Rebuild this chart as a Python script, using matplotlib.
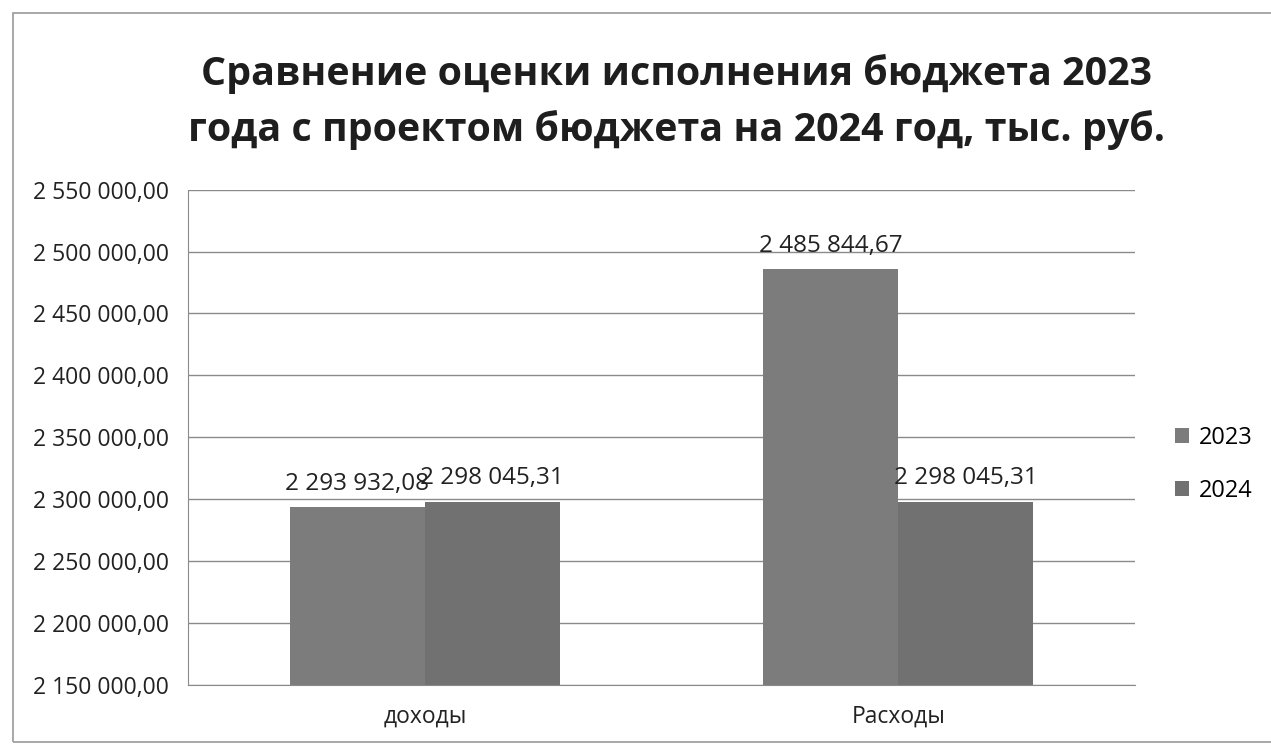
import matplotlib.pyplot as plt
import matplotlib.patches as patches
from matplotlib.ticker import FuncFormatter

categories = ["доходы", "Расходы"]
series_names = ["2023", "2024"]
values_2023 = [2293932.08, 2485844.67]
values_2024 = [2298045.31, 2298045.31]
y_ticks = [2150000, 2200000, 2250000, 2300000, 2350000, 2400000, 2450000, 2500000, 2550000]

title = "Сравнение оценки исполнения бюджета 2023\nгода с проектом бюджета на 2024 год, тыс. руб."

plt.rcParams['font.family'] = ['Open Sans', 'DejaVu Sans']


def fmt_ru(v, pos=None):
    s = f"{v:,.2f}"
    return s.replace(",", " ").replace(".", ",")


fig = plt.figure(figsize=(12.71, 7.5), dpi=100)
ax = fig.add_axes([0.148, 0.087, 0.745, 0.66])

# рамка вокруг всей диаграммы
fig.patches.append(patches.Rectangle((13 / 1271, 8 / 750), 1.2, 729 / 750,
                                     transform=fig.transFigure, fill=False,
                                     edgecolor="#9a9a9a", linewidth=1.2))

x = list(range(len(categories)))
w = 0.285
colors = ["#7c7c7c", "#717171"]
b1 = ax.bar([i - w / 2 for i in x], values_2023, width=w, color=colors[0], label=series_names[0], zorder=2)
b2 = ax.bar([i + w / 2 for i in x], values_2024, width=w, color=colors[1], label=series_names[1], zorder=2)

for bars in (b1, b2):
    for r in bars:
        ax.annotate(fmt_ru(r.get_height()), (r.get_x() + r.get_width() / 2, r.get_height()),
                    xytext=(0, 8), textcoords="offset points", ha="center", va="bottom",
                    fontsize=17.5, color="#222222")

ax.set_xlim(-0.5, 1.5)
ax.set_ylim(y_ticks[0], y_ticks[-1])
ax.set_yticks(y_ticks)
ax.yaxis.set_major_formatter(FuncFormatter(fmt_ru))
ax.set_xticks(x)
ax.set_xticklabels(categories)
ax.tick_params(axis="both", length=0, labelsize=16.5, labelcolor="#222222")
ax.tick_params(axis="y", pad=14)
ax.tick_params(axis="x", pad=14)

ax.grid(axis="y", color="#8a8a8a", linewidth=1, zorder=0)
for side in ("top", "right"):
    ax.spines[side].set_visible(False)
ax.spines["left"].set_color("#8a8a8a")
ax.spines["bottom"].set_color("#8a8a8a")

fig.text(0.532, 0.80, title, ha="center", va="bottom", fontsize=28.4,
         fontweight="bold", color="#1e1e1e", linespacing=1.5)

ax.legend(loc="center left", bbox_to_anchor=(1.02, 0.445), frameon=False,
          fontsize=17, handlelength=0.6, handleheight=0.6, labelspacing=1.2,
          handletextpad=0.4)

plt.savefig("out.png", dpi=100)
